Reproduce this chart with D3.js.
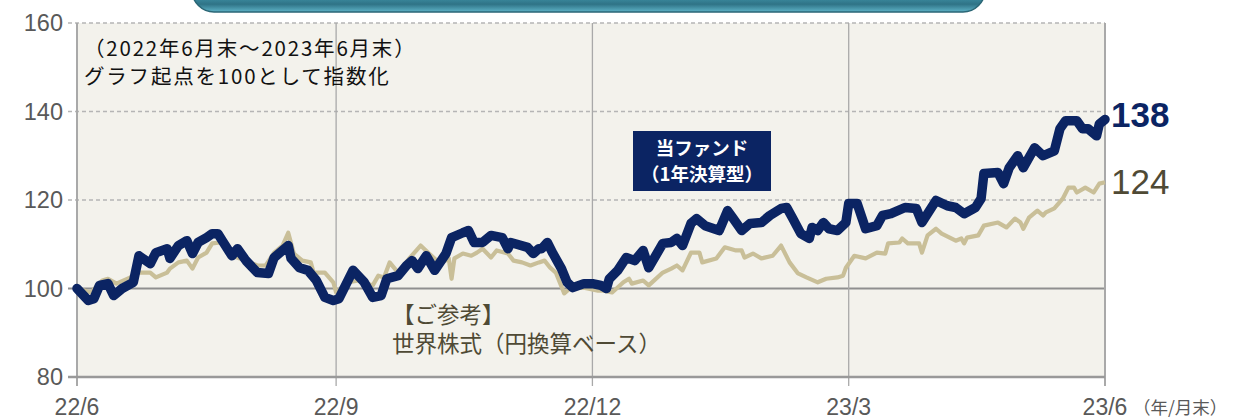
<!DOCTYPE html>
<html><head><meta charset="utf-8">
<script src="https://cdn.jsdelivr.net/npm/d3@7/dist/d3.min.js"></script>
<style>
html,body{margin:0;padding:0;background:#fff;}
svg{display:block;}
</style></head>
<body>
<svg id="chart" width="1238" height="419"></svg>
<script>
// ---- data (days elapsed since 2022-06-30, index value) ----
const startDate = "2022-06-30";
const fundDays = [0,4,6,8,11,13,16,20,22,26,28,32,33,36,39,41,43,46,48,50,52,55,57,60,64,68,70,75,76,79,82,85,88,91,93,98,102,105,108,110,114,117,119,121,124,127,131,133,137,139,141,144,147,151,153,154,160,162,164,165,167,169,172,174,176,180,183,186,188,189,192,195,198,201,203,208,211,213,215,218,220,223,228,231,233,236,239,243,246,250,252,254,257,260,261,263,265,267,270,273,274,277,280,284,286,289,294,298,300,305,309,312,315,319,321,322,327,329,331,334,336,340,343,347,349,351,355,357,359,362,363,365];
const fundValues = [100,97.3,97.7,100.7,101.1,98.4,100,101.4,107.4,105.6,108.1,109,106.8,109.7,110.8,107.9,110.4,111.5,112.4,112.4,110.4,107.4,109,106.3,103.6,103.4,107,109.7,106.8,104.7,104.1,101.8,98,97.3,97.7,104.1,101.4,98,98.4,102.2,102.9,105.2,106.3,104.5,107.4,104.1,107.9,111.5,112.6,113.1,110.4,110.4,112,111.5,109,110.4,109.3,107.9,109,109,110.4,107.9,104.5,101.4,100.2,101.1,101.1,100.7,100,102.2,104.1,107,106.3,108.6,104.7,110.2,110.4,111.3,109.7,114.7,115.8,114.2,113.1,117.6,115.8,113.1,114.7,114.9,116.5,118.1,118.3,116,112.4,111.3,113.8,113.1,114.9,113.5,113.1,114.9,119.2,119.2,113.5,114.2,116.5,116.9,118.3,118.1,114.9,119.9,118.7,118.3,116.9,118.3,120.3,126,126.2,123.7,127.3,130,127.3,131.8,130,131.1,136.1,137.9,137.9,136.1,136.1,134.5,137.2,138.2];
const worldDays = [0,5,9,11,14,19,21,26,28,32,33,36,39,41,43,46,48,51,53,55,60,64,67,70,73,75,77,80,83,84,88,91,92,96,100,105,107,109,111,114,118,122,125,129,132,133,134,137,140,142,144,147,149,153,155,158,161,164,166,168,170,173,175,180,185,187,190,194,196,197,201,203,208,211,213,215,218,221,222,227,230,234,236,237,240,243,247,250,253,256,259,263,266,270,272,273,276,280,284,287,288,292,293,295,299,300,302,305,307,312,314,315,316,320,322,327,330,333,335,336,338,341,343,344,347,350,352,354,355,358,361,363,365];
const worldValues = [100,99.1,101.8,102.2,101.1,102.5,103.6,103.6,102.5,103.6,104.5,105.9,106.3,104.5,107,108.1,110.2,110.4,109.3,107.4,106.3,105.2,105.2,108.1,109.7,112.6,107.9,106.3,105.9,103.6,103.6,101.4,99.1,101.4,101.8,100.7,102.9,102.5,105.9,103.6,106.8,109.7,107.9,105.6,106.8,102.2,106.8,107.9,107.4,108.1,109,107,108.6,107.9,106.3,105.9,105.2,105.9,106.3,104.7,103.6,98.9,100,100.2,99.5,99.5,99.1,101.4,102.2,101.1,101.8,100.7,103.6,104.5,105.2,104.1,108.1,108.1,105.9,106.8,109.3,108.6,108.6,107,107.9,106.8,107.4,109.7,105.9,103.4,102.5,101.4,102.2,102.5,102.9,104.7,107.4,106.8,108.1,107.9,110.2,110.4,111.3,110.2,110.2,108.1,112,113.5,112.4,110.8,111.3,110.2,111.5,112,114.2,114.9,113.8,115.8,114.9,113.5,116,117.6,116.5,117.2,118.1,120.3,122.8,122.8,121.7,122.8,121.7,123.7,124];
const xTickDates = ["2022-06-30","2022-09-30","2022-12-30","2023-03-31","2023-06-30"];
const xTickLabels = ["22/6","22/9","22/12","23/3","23/6"];
const yTicks = [80,100,120,140,160];
const fundName = ["当ファンド","（1年決算型）"];
const worldName = ["【ご参考】","世界株式（円換算ベース）"];
const noteLines = ["（2022年6月末～2023年6月末）","グラフ起点を100として指数化"];
const unitLabel = "（年/月末）";

// ---- drawing ----
const svg = d3.select("#chart");
const m = {left:77, right:1105, top:23, bottom:377};
const parse = d3.timeParse("%Y-%m-%d");
const t0 = parse(startDate);
const x = d3.scaleTime().domain([t0, parse("2023-06-30")]).range([m.left, m.right]);
const y = d3.scaleLinear().domain([80,160]).range([m.bottom, m.top]);
const jp = "'Noto Sans CJK JP','Noto Sans',sans-serif";
const num = "'Liberation Sans',Arial,sans-serif";

// banner
const defs = svg.append("defs");
const g1 = defs.append("linearGradient").attr("id","ban").attr("x1",0).attr("y1",0).attr("x2",0).attr("y2",1);
g1.append("stop").attr("offset","0%").attr("stop-color","#6fc0d4");
g1.append("stop").attr("offset","60%").attr("stop-color","#4aa6bd");
g1.append("stop").attr("offset","85%").attr("stop-color","#2f7386");
g1.append("stop").attr("offset","100%").attr("stop-color","#5eb3c7");
svg.append("rect").attr("x",192).attr("y",-40).attr("width",793).attr("height",52).attr("rx",22)
  .attr("fill","url(#ban)").attr("stroke","#2a6675").attr("stroke-width",1.5);

// plot background
svg.append("rect").attr("x",m.left).attr("y",m.top).attr("width",m.right-m.left).attr("height",m.bottom-m.top)
  .attr("fill","#f3f2ec");

// horizontal grid
yTicks.forEach(v=>{
  if(v===80) return;
  svg.append("line").attr("x1",m.left-9).attr("x2",m.right).attr("y1",y(v)).attr("y2",y(v))
    .attr("stroke", v===100?"#8f8f8f":"#b5b5b5")
    .attr("stroke-width", v===100?2:1.3)
    .attr("stroke-dasharray", v===100?null:"4,3");
});
// vertical grid
xTickDates.forEach((d,i)=>{
  const xx = x(parse(d));
  svg.append("line").attr("x1",xx).attr("x2",xx).attr("y1",m.top).attr("y2",m.bottom+9)
    .attr("stroke","#a9a9a9").attr("stroke-width", (i===0||i===4)?2:1.3);
});
// bottom axis line
svg.append("line").attr("x1",m.left-9).attr("x2",m.right).attr("y1",y(80)).attr("y2",y(80))
  .attr("stroke","#999").attr("stroke-width",2.5);

// y labels
svg.append("g").selectAll("text").data(yTicks).join("text")
  .attr("x",63).attr("y",d=>y(d)+8).attr("text-anchor","end")
  .attr("font-family",num).attr("font-size",23.5).attr("fill","#595959").text(d=>d);
// x labels
svg.append("g").selectAll("text").data(xTickDates).join("text")
  .attr("x",d=>x(parse(d))).attr("y",415).attr("text-anchor","middle")
  .attr("font-family",num).attr("font-size",23).attr("fill","#595959")
  .text((d,i)=>xTickLabels[i]);
svg.append("text").attr("x",1133).attr("y",414).attr("font-family",jp).attr("font-size",17.5)
  .attr("fill","#595959").text(unitLabel);

// lines
const toPts = (days, vals) => days.map((d,i)=>({date:d3.timeDay.offset(t0,d), v:vals[i]}));
const line = d3.line().x(d=>x(d.date)).y(d=>y(d.v));
svg.append("path").datum(toPts(worldDays, worldValues)).attr("d",line)
  .attr("fill","none").attr("stroke","#c9bf98").attr("stroke-width",4.2).attr("stroke-linejoin","round");
svg.append("path").datum(toPts(fundDays, fundValues)).attr("d",line)
  .attr("fill","none").attr("stroke","#0b2463").attr("stroke-width",9.5).attr("stroke-linejoin","round").attr("stroke-linecap","round");

// end labels
svg.append("text").attr("x",1111).attr("y",y(fundValues[fundValues.length-1])+8)
  .attr("font-family",num).attr("font-weight","bold").attr("font-size",35).attr("fill","#0b2463")
  .text(Math.round(fundValues[fundValues.length-1]));
svg.append("text").attr("x",1111).attr("y",y(worldValues[worldValues.length-1])+12)
  .attr("font-family",num).attr("font-size",35).attr("fill","#4f4a35")
  .text(Math.round(worldValues[worldValues.length-1]));

// notes
noteLines.forEach((s,i)=>{
  svg.append("text").attr("x",84).attr("y",56+i*28).attr("font-family",jp).attr("font-size",20.5)
    .attr("letter-spacing",1.8).attr("fill","#111").text(s);
});
// fund label box
svg.append("rect").attr("x",633).attr("y",131).attr("width",138).attr("height",60).attr("fill","#0b2463");
fundName.forEach((s,i)=>{
  svg.append("text").attr("x",702).attr("y",155+i*26).attr("text-anchor","middle")
    .attr("font-family",jp).attr("font-weight","bold").attr("font-size",18.5).attr("fill","#fff").text(s);
});
// world label
worldName.forEach((s,i)=>{
  svg.append("text").attr("x",392).attr("y",323+i*29).attr("font-family",jp).attr("font-size",22.5)
    .attr("fill","#4f4a35").text(s);
});
</script>
</body></html>
